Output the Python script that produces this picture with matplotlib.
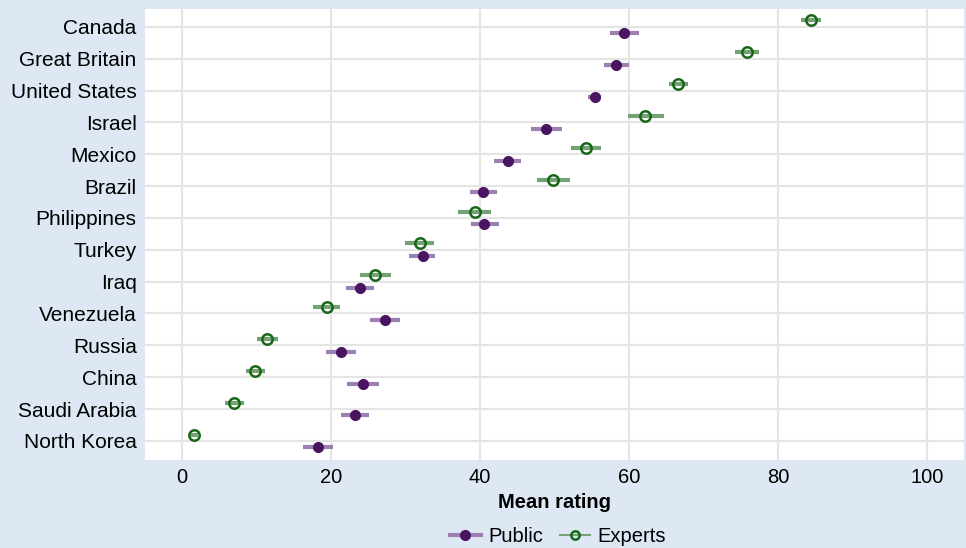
import matplotlib
matplotlib.use("Agg")
import matplotlib.pyplot as plt
import numpy as np

plt.rcParams['font.family'] = ['Liberation Sans', 'DejaVu Sans']

countries = ["Canada", "Great Britain", "United States", "Israel", "Mexico",
             "Brazil", "Philippines", "Turkey", "Iraq", "Venezuela", "Russia",
             "China", "Saudi Arabia", "North Korea"]

public = [59.4, 58.3, 55.4, 48.9, 43.7, 40.4, 40.6, 32.3, 23.9, 27.2, 21.3, 24.3, 23.2, 18.2]
public_lo = [57.4, 56.6, 54.5, 46.9, 41.9, 38.7, 38.8, 30.5, 22.0, 25.2, 19.3, 22.1, 21.3, 16.2]
public_hi = [61.3, 60.0, 56.3, 51.0, 45.5, 42.3, 42.5, 34.0, 25.8, 29.2, 23.4, 26.4, 25.1, 20.2]

experts = [84.4, 75.9, 66.6, 62.2, 54.2, 49.8, 39.3, 31.9, 25.9, 19.4, 11.4, 9.8, 7.0, 1.6]
experts_lo = [83.1, 74.3, 65.4, 59.9, 52.2, 47.6, 37.1, 29.9, 23.9, 17.6, 10.1, 8.5, 5.8, 1.1]
experts_hi = [85.8, 77.5, 67.9, 64.7, 56.2, 52.1, 41.5, 33.8, 28.0, 21.2, 12.8, 11.1, 8.3, 2.1]

bg = '#dde8f4'
purple = '#4a1560'
purple_ci = '#9d80b2'
green = '#196619'
green_ci = '#74a274'

fig = plt.figure(figsize=(9.66, 5.48), dpi=100, facecolor=bg)
ax = fig.add_axes([0.1501, 0.1606, 0.8478, 0.823])
ax.set_facecolor('white')

n = len(countries)
y = np.arange(n)[::-1]

pub = np.array(public)
exp = np.array(experts)
# confidence intervals + means, public slightly below the gridline, experts above
ax.hlines(y - 0.2, public_lo, public_hi, color=purple_ci, lw=3, zorder=2)
ax.plot(pub, y - 0.2, 'o', color=purple, ms=7, zorder=3)
ax.hlines(y + 0.2, experts_lo, experts_hi, color=green_ci, lw=3, zorder=2)
ax.plot(exp, y + 0.2, 'o', mfc='none', mec=green, mew=1.8, ms=7.5, zorder=3)

ax.set_xlim(-5, 105)
ax.set_ylim(-0.6, 13.56)
ax.set_xticks([0, 20, 40, 60, 80, 100])
ax.set_yticks(y)
ax.set_yticklabels(countries)
ax.tick_params(axis='y', length=0, labelsize=15, pad=6)
ax.tick_params(axis='x', length=0, labelsize=14.5, pad=6)
ax.grid(True, color='#e5e5e5', lw=1.5, zorder=0)
ax.set_axisbelow(True)
for s in ax.spines.values():
    s.set_visible(False)

ax.set_xlabel("Mean rating", fontsize=14.5, fontweight='bold', labelpad=4)

h1, = ax.plot([], [], '-o', color=purple_ci, mfc=purple, mec=purple, ms=7, lw=3)
h2, = ax.plot([], [], '-o', color=green_ci, mfc='none', mec=green, mew=1.8, ms=6)
leg = fig.legend([h1, h2], ["Public", "Experts"], loc='lower center',
                 bbox_to_anchor=(0.578, -0.03), ncol=2, frameon=False,
                 fontsize=14.5, handlelength=1.5, handletextpad=0.4,
                 columnspacing=0.8)

fig.savefig("out.png", dpi=100, facecolor=bg)
